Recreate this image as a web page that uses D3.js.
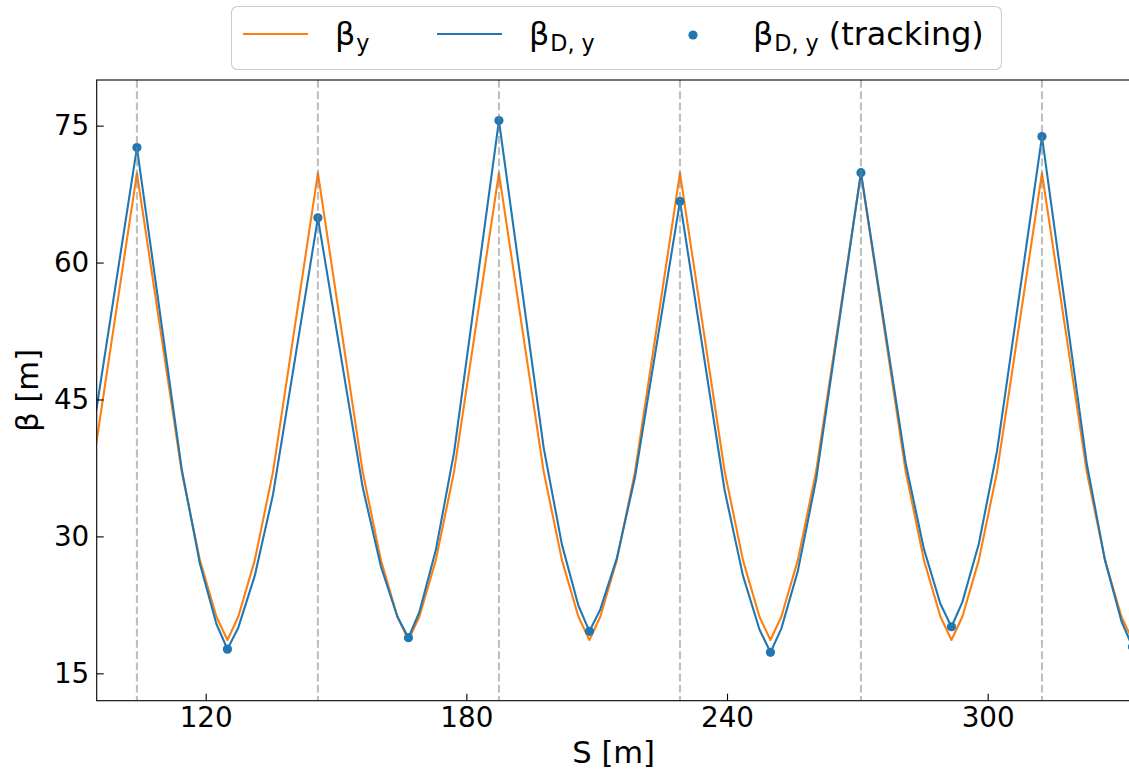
<!DOCTYPE html>
<html><head><meta charset="utf-8">
<script src="https://cdn.jsdelivr.net/npm/d3@7"></script>
<style>
body{margin:0;background:#fff}
svg{display:block}
text{font-family:"DejaVu Sans",sans-serif;fill:#000}
</style>
</head><body>
<svg id="c" width="1129" height="773"></svg>
<script>
// ---- data ----
const sPos = [83.33, 85.83, 89.63, 93.83,
  104.17, 114.47, 118.67, 122.47, 125.00, 127.50, 131.30, 135.50,
  145.83, 156.13, 160.33, 164.13, 166.67, 169.17, 172.97, 177.17,
  187.50, 197.80, 202.00, 205.80, 208.33, 210.83, 214.63, 218.83,
  229.17, 239.47, 243.67, 247.47, 250.00, 252.50, 256.30, 260.50,
  270.83, 281.13, 285.33, 289.13, 291.67, 294.17, 297.97, 302.17,
  312.50, 322.80, 327.00, 330.80, 333.33];
const betaY = [18.65, 21.2, 27.4, 37.1,
  69.8, 37.1, 27.4, 21.2, 18.65, 21.2, 27.4, 37.1,
  69.8, 37.1, 27.4, 21.2, 18.65, 21.2, 27.4, 37.1,
  69.8, 37.1, 27.4, 21.2, 18.65, 21.2, 27.4, 37.1,
  69.8, 37.1, 27.4, 21.2, 18.65, 21.2, 27.4, 37.1,
  69.8, 37.1, 27.4, 21.2, 18.65, 21.2, 27.4, 37.1,
  69.8, 37.1, 27.4, 21.2, 18.65];
const betaDY = [23.0, 25.5, 31.4, 40.8,
  72.6, 37.4, 27.0, 20.4, 17.65, 20.0, 25.7, 34.6,
  64.9, 35.4, 26.7, 21.2, 18.9, 21.7, 28.5, 39.2,
  75.55, 39.7, 29.1, 22.4, 19.6, 22.0, 27.6, 36.5,
  66.7, 35.0, 25.7, 19.8, 17.3, 19.9, 26.2, 36.2,
  69.85, 38.0, 28.6, 22.6, 20.1, 22.8, 29.2, 39.4,
  73.8, 38.0, 27.4, 20.7, 17.9];
const trackS = [104.17, 125.00, 145.83, 166.67, 187.50, 208.33, 229.17, 250.00, 270.83, 291.67, 312.50, 333.33];
const trackBeta = [72.6, 17.65, 64.9, 18.9, 75.55, 19.6, 66.7, 17.3, 69.85, 20.1, 73.8, 17.9];
const quadS = [104.17, 145.83, 187.50, 229.17, 270.83, 312.50];
const xTicks = [120, 180, 240, 300];
const yTicks = [15, 30, 45, 60, 75];
const xDomain = [94.91, 332.9];
const yDomain = [12, 80];

// ---- layout ----
const L = 96.7, T = 80, R = 1130.6, B = 700.7;
const ORANGE = "#ff7f0e", BLUE = "#1f77b4";
const svg = d3.select("#c");
const x = d3.scaleLinear().domain(xDomain).range([L, R]);
const y = d3.scaleLinear().domain(yDomain).range([B, T]);

svg.append("defs").append("clipPath").attr("id", "clip")
  .append("rect").attr("x", L).attr("y", T).attr("width", R - L).attr("height", B - T);

const plot = svg.append("g").attr("clip-path", "url(#clip)");
const line = d3.line().x(d => x(d[0])).y(d => y(d[1]));

plot.append("path").datum(sPos.map((s, i) => [s, betaY[i]]))
  .attr("d", line).attr("fill", "none").attr("stroke", ORANGE)
  .attr("stroke-width", 2.1).attr("stroke-linejoin", "round");
plot.append("path").datum(sPos.map((s, i) => [s, betaDY[i]]))
  .attr("d", line).attr("fill", "none").attr("stroke", BLUE)
  .attr("stroke-width", 2.1).attr("stroke-linejoin", "round");
plot.selectAll("circle.trk").data(trackS.map((s, i) => [s, trackBeta[i]]))
  .enter().append("circle").attr("class", "trk")
  .attr("cx", d => x(d[0])).attr("cy", d => y(d[1])).attr("r", 4.6).attr("fill", BLUE);
plot.selectAll("line.quad").data(quadS).enter().append("line").attr("class", "quad")
  .attr("x1", d => x(d)).attr("x2", d => x(d)).attr("y1", T).attr("y2", B)
  .attr("stroke", "#808080").attr("stroke-opacity", 0.5).attr("stroke-width", 2.1)
  .attr("stroke-dasharray", "7.8,3.4");

// axes
const xAxis = d3.axisBottom(x).tickValues(xTicks).tickSize(-7).tickPadding(6.6).tickFormat(d3.format("d"));
const gx = svg.append("g").attr("transform", `translate(0,${B})`).call(xAxis);
const yAxis = d3.axisLeft(y).tickValues(yTicks).tickSize(-7).tickPadding(7.4).tickFormat(d3.format("d"));
const gy = svg.append("g").attr("transform", `translate(${L},0)`).call(yAxis);
[gx, gy].forEach(g => {
  g.select(".domain").remove();
  g.selectAll(".tick line").attr("stroke", "#000").attr("stroke-width", 1.1);
  g.selectAll(".tick text").attr("font-size", 27.8).attr("font-family", "DejaVu Sans").attr("fill", "#000");
});

svg.append("rect").attr("x", L).attr("y", T).attr("width", R - L).attr("height", B - T)
  .attr("fill", "none").attr("stroke", "#000").attr("stroke-width", 1.1);

// axis labels
svg.append("text").attr("x", (L + R) / 2).attr("y", 763).attr("text-anchor", "middle")
  .attr("font-size", 30.6).text("S [m]");
svg.append("text").attr("transform", `translate(38,${(T + B) / 2}) rotate(-90)`)
  .attr("text-anchor", "middle").attr("font-size", 30.6).text("β [m]");

// legend
const lg = svg.append("g");
lg.append("rect").attr("x", 231.5).attr("y", 6.5).attr("width", 770).attr("height", 63)
  .attr("rx", 6).attr("fill", "#fff").attr("fill-opacity", 0.8)
  .attr("stroke", "#cccccc").attr("stroke-width", 1.1);
const FS = 31.8;
function mathLabel(xp, main, sub, rest) {
  const t = lg.append("text").attr("x", xp).attr("y", 45).attr("font-size", FS);
  t.append("tspan").text(main);
  t.append("tspan").attr("font-size", FS * 0.7).attr("dy", 6).attr("dx", 1).text(sub);
  if (rest) t.append("tspan").attr("dy", -6).text(rest);
}
lg.append("line").attr("x1", 243).attr("x2", 308).attr("y1", 34).attr("y2", 34)
  .attr("stroke", ORANGE).attr("stroke-width", 2.1);
mathLabel(335, "β", "y");
lg.append("line").attr("x1", 437).attr("x2", 502).attr("y1", 34).attr("y2", 34)
  .attr("stroke", BLUE).attr("stroke-width", 2.1);
mathLabel(529, "β", "D, y");
lg.append("circle").attr("cx", 693).attr("cy", 35).attr("r", 4.6).attr("fill", BLUE);
mathLabel(753, "β", "D, y", " (tracking)");
</script>
</body></html>
